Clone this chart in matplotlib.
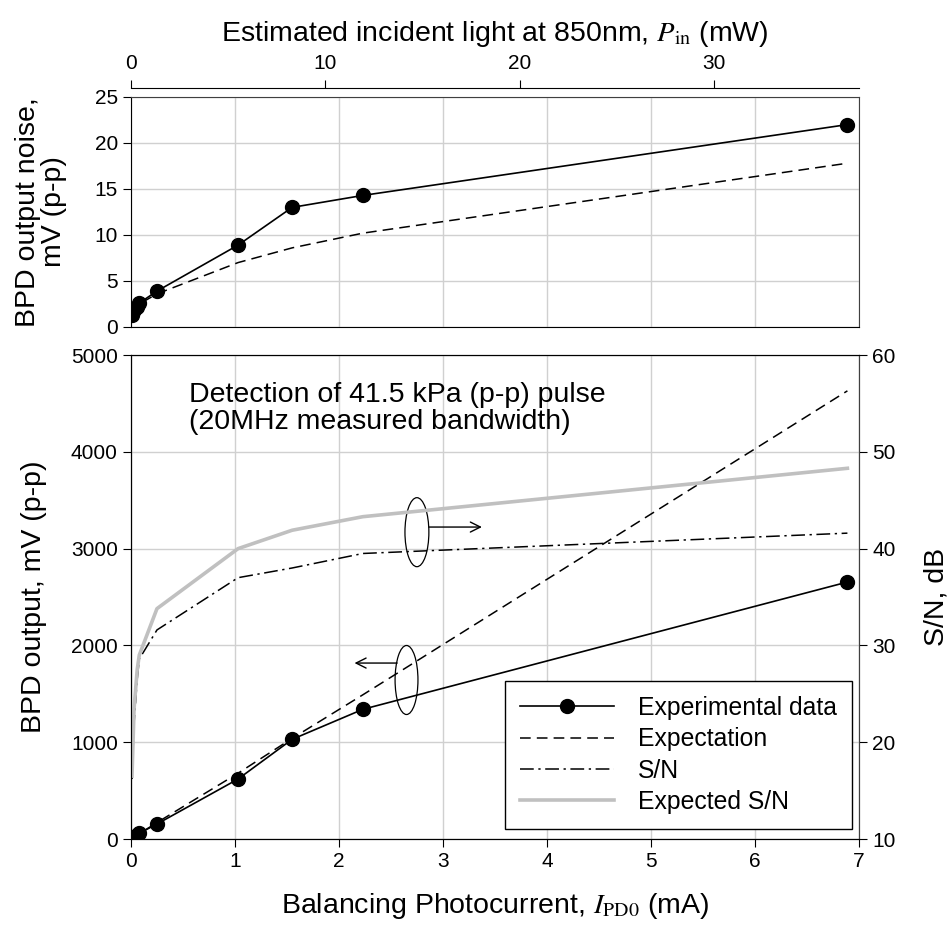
import matplotlib
matplotlib.use("Agg")
import matplotlib.pyplot as plt
from matplotlib.patches import Ellipse

plt.rcParams["font.family"] = ["Liberation Sans", "DejaVu Sans"]
plt.rcParams["mathtext.fontset"] = "stix"

# balancing photocurrent, mA
current_mA = [0.01, 0.03, 0.06, 0.08, 0.25, 1.03, 1.55, 2.23, 6.89]

# top panel: BPD output noise, mV (p-p)
noise_meas = [1.3, 1.8, 2.2, 2.6, 3.9, 8.9, 13.0, 14.3, 22.0]
noise_expect = [1.3, 1.8, 2.2, 2.5, 3.6, 7.0, 8.6, 10.2, 17.8]

# bottom panel: BPD output, mV (p-p)
output_meas = [5, 20, 40, 60, 155, 620, 1030, 1340, 2655]
output_expect = [5, 20, 40, 55, 170, 680, 1040, 1490, 4630]

# bottom panel, right axis: S/N, dB
sn_meas = [16.2, 22.0, 26.5, 28.6, 31.6, 37.0, 38.0, 39.5, 41.6]
sn_expect = [16.5, 23.5, 27.5, 29.0, 33.8, 40.0, 41.9, 43.3, 48.3]

# conversion photocurrent (mA) -> incident power (mW)
MW_PER_MA = 37.46 / 7.0

FS_TICK = 15
FS_LABEL = 20.5
GRID = dict(color="#d0d0d0", linewidth=1.0)

fig = plt.figure(figsize=(9.49, 9.38), dpi=100)
ax_top = fig.add_axes([0.138, 0.6514, 0.767, 0.2452])
ax = fig.add_axes([0.138, 0.1055, 0.767, 0.516])
ax_r = ax.twinx()

# ---- top panel ----
ax_top.plot(current_mA, noise_meas, color="black", lw=1.2, marker="o",
            markersize=10, zorder=3)
ax_top.plot(current_mA, noise_expect, color="black", lw=1.1,
            dashes=(7, 4), zorder=3)
ax_top.set_xlim(0, 7)
ax_top.set_ylim(0, 25)
ax_top.set_xticks(range(8))
ax_top.set_yticks(range(0, 26, 5))
ax_top.tick_params(axis="x", length=0, labelbottom=False)
ax_top.tick_params(axis="y", direction="out", length=6, labelsize=FS_TICK)
ax_top.grid(True, **GRID)
ax_top.set_axisbelow(True)
ax_top.set_ylabel("BPD output noise,\nmV (p-p)", fontsize=FS_LABEL,
                  labelpad=20, linespacing=1.0)
for side in ("top", "right"):
    ax_top.spines[side].set_color("#404040")

sec = ax_top.secondary_xaxis(1.039, functions=(lambda x: x * MW_PER_MA,
                                               lambda x: x / MW_PER_MA))
sec.set_xticks([0, 10, 20, 30])
sec.tick_params(direction="out", length=6, labelsize=FS_TICK, pad=5)
sec.set_xlabel(r"Estimated incident light at 850nm, $P_{\mathrm{in}}$ (mW)",
               fontsize=FS_LABEL, labelpad=9)

# ---- bottom panel ----
l1, = ax.plot(current_mA, output_meas, color="black", lw=1.2, marker="o",
              markersize=10, zorder=3, label="Experimental data")
l2, = ax.plot(current_mA, output_expect, color="black", lw=1.1,
              dashes=(7, 4), zorder=3, label="Expectation")
l3, = ax_r.plot(current_mA, sn_meas, color="black", lw=1.1,
                dashes=(9, 3, 1.5, 3), label="S/N")
l4, = ax_r.plot(current_mA, sn_expect, color="#c0c0c0", lw=2.6,
                label="Expected S/N")

ax.set_xlim(0, 7)
ax.set_ylim(0, 5000)
ax_r.set_ylim(10, 60)
ax.set_xticks(range(8))
ax.set_yticks(range(0, 5001, 1000))
ax_r.set_yticks(range(10, 61, 10))
ax.tick_params(direction="out", length=6, labelsize=FS_TICK)
ax_r.tick_params(direction="out", length=6, labelsize=FS_TICK)
ax.grid(True, **GRID)
ax.set_axisbelow(True)
for a in (ax, ax_r):
    a.spines["right"].set_color("#404040")
    a.spines["top"].set_color("black")

ax.set_xlabel(r"Balancing Photocurrent, $I_{\mathrm{PD0}}$ (mA)",
              fontsize=FS_LABEL, labelpad=14)
ax.set_ylabel("BPD output, mV (p-p)", fontsize=FS_LABEL, labelpad=17)
ax_r.set_ylabel("S/N, dB", fontsize=FS_LABEL, labelpad=20)

ax.text(0.56, 4720, "Detection of 41.5 kPa (p-p) pulse\n(20MHz measured bandwidth)",
        fontsize=FS_LABEL, va="top", ha="left", linespacing=1.05)

# ellipses + arrows marking which axis each curve pair belongs to
ax.add_patch(Ellipse((2.75, 3170), 0.23, 713, fill=False, lw=0.9,
                     edgecolor="black", zorder=4))
ax.annotate("", xy=(3.375, 3223), xytext=(2.865, 3223),
            arrowprops=dict(arrowstyle="->", lw=1.0, color="black",
                            mutation_scale=18, shrinkA=0, shrinkB=0))
ax.add_patch(Ellipse((2.65, 1643), 0.22, 713, fill=False, lw=0.9,
                     edgecolor="black", zorder=4))
ax.annotate("", xy=(2.15, 1818), xytext=(2.56, 1818),
            arrowprops=dict(arrowstyle="->", lw=1.0, color="black",
                            mutation_scale=18, shrinkA=0, shrinkB=0))

leg = ax_r.legend(handles=[l1, l2, l3, l4], loc="lower right",
                  bbox_to_anchor=(0.990, 0.021), borderaxespad=0,
                  fontsize=17.8, handlelength=3.8, labelspacing=0.3,
                  handletextpad=0.95, borderpad=0.6, fancybox=False,
                  framealpha=1, edgecolor="black")
leg.get_frame().set_linewidth(1.0)

fig.savefig("out.png", dpi=100)
